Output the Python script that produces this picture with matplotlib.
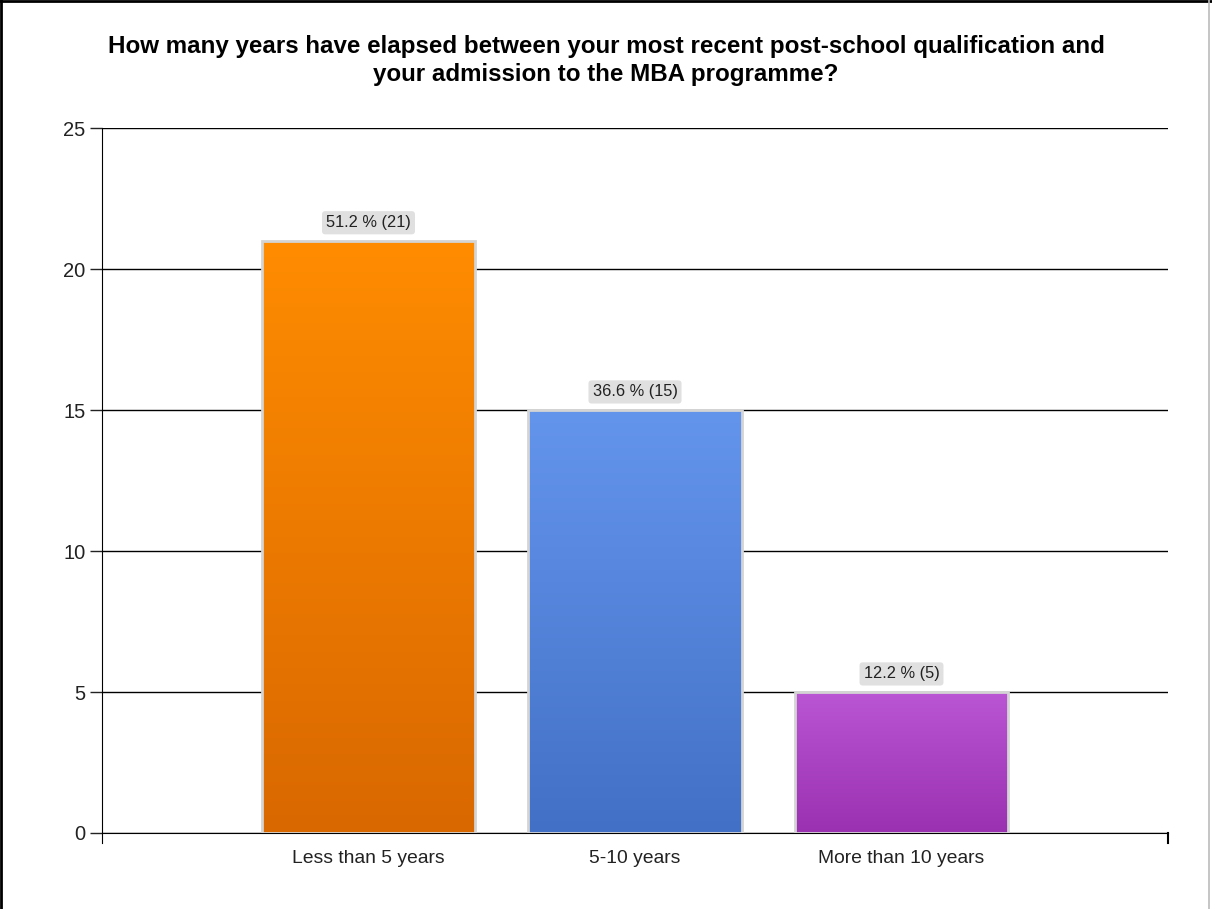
import numpy as np
import matplotlib
matplotlib.use('Agg')
import matplotlib.pyplot as plt
from matplotlib.colors import LinearSegmentedColormap
from matplotlib.lines import Line2D

categories = ['Less than 5 years', '5-10 years', 'More than 10 years']
counts = [21, 15, 5]
percents = [51.2, 36.6, 12.2]
top_colors = ['#ff8c00', '#6495ed', '#ba55d3']
bottom_colors = ['#d96800', '#4270c6', '#9a31b0']

plt.rcParams['font.family'] = ['Liberation Sans', 'DejaVu Sans']

fig = plt.figure(figsize=(12.12, 9.09), dpi=100)
ax = fig.add_axes([102/1212, 1-833/909, (1168-102)/1212, (833-128)/909])

x = np.arange(1, len(categories) + 1)
bars = ax.bar(x, counts, width=0.8, facecolor='none', edgecolor='#d4d4d4',
              linewidth=2, zorder=3)
grad = np.linspace(0, 1, 256).reshape(-1, 1)
for b, c1, c2 in zip(bars, top_colors, bottom_colors):
    cmap = LinearSegmentedColormap.from_list('g', [c2, c1])
    bx, by = b.get_x(), b.get_y()
    w, h = b.get_width(), b.get_height()
    im = ax.imshow(grad, cmap=cmap, aspect='auto', origin='lower',
                   extent=(bx, bx + w, by, by + h), zorder=2)
    im.set_clip_path(b)

for xi, c, p in zip(x, counts, percents):
    ax.annotate('%.1f %% (%d)' % (p, c), (xi, c), xytext=(0, 13),
                textcoords='offset points', ha='center', va='center',
                fontsize=11.8, color='#222222',
                bbox=dict(boxstyle='round,pad=0.25,rounding_size=0.2',
                          fc='#e0e0e0', ec='none'), zorder=5)

ax.set_xlim(0, 4)
ax.set_ylim(0, 25)
ax.set_yticks([0, 5, 10, 15, 20, 25])
ax.set_xticks(x)
ax.set_xticklabels(categories, fontsize=13.9, color='#222222')
ax.tick_params(axis='x', length=0, pad=12)
ax.tick_params(axis='y', length=9, width=1, labelsize=14.5, pad=3, colors='#222222')
ax.yaxis.grid(True, color='black', linewidth=1, zorder=0)
ax.set_axisbelow(True)
for s in ['top', 'right']:
    ax.spines[s].set_visible(False)
ax.spines['left'].set_bounds(-0.35, 25)
ax.spines['bottom'].set_color('black')
# end tick at right of x axis
ax.plot([4, 4], [0, -0.35], color='black', lw=1.5, clip_on=False)

fig.suptitle('How many years have elapsed between your most recent post-school qualification and\n'
             'your admission to the MBA programme?', fontsize=17.4, fontweight='bold',
             y=1-35/909, va='top', linespacing=1.25)

fig.add_artist(Line2D([0.001, 0.001], [0, 1], transform=fig.transFigure,
                      color='black', lw=2))
fig.add_artist(Line2D([0, 1], [0.999, 0.999], transform=fig.transFigure,
                      color='black', lw=2))
fig.add_artist(Line2D([0.9975, 0.9975], [0, 1], transform=fig.transFigure,
                      color='#bbbbbb', lw=1.2))

fig.savefig('out.png', dpi=100)
